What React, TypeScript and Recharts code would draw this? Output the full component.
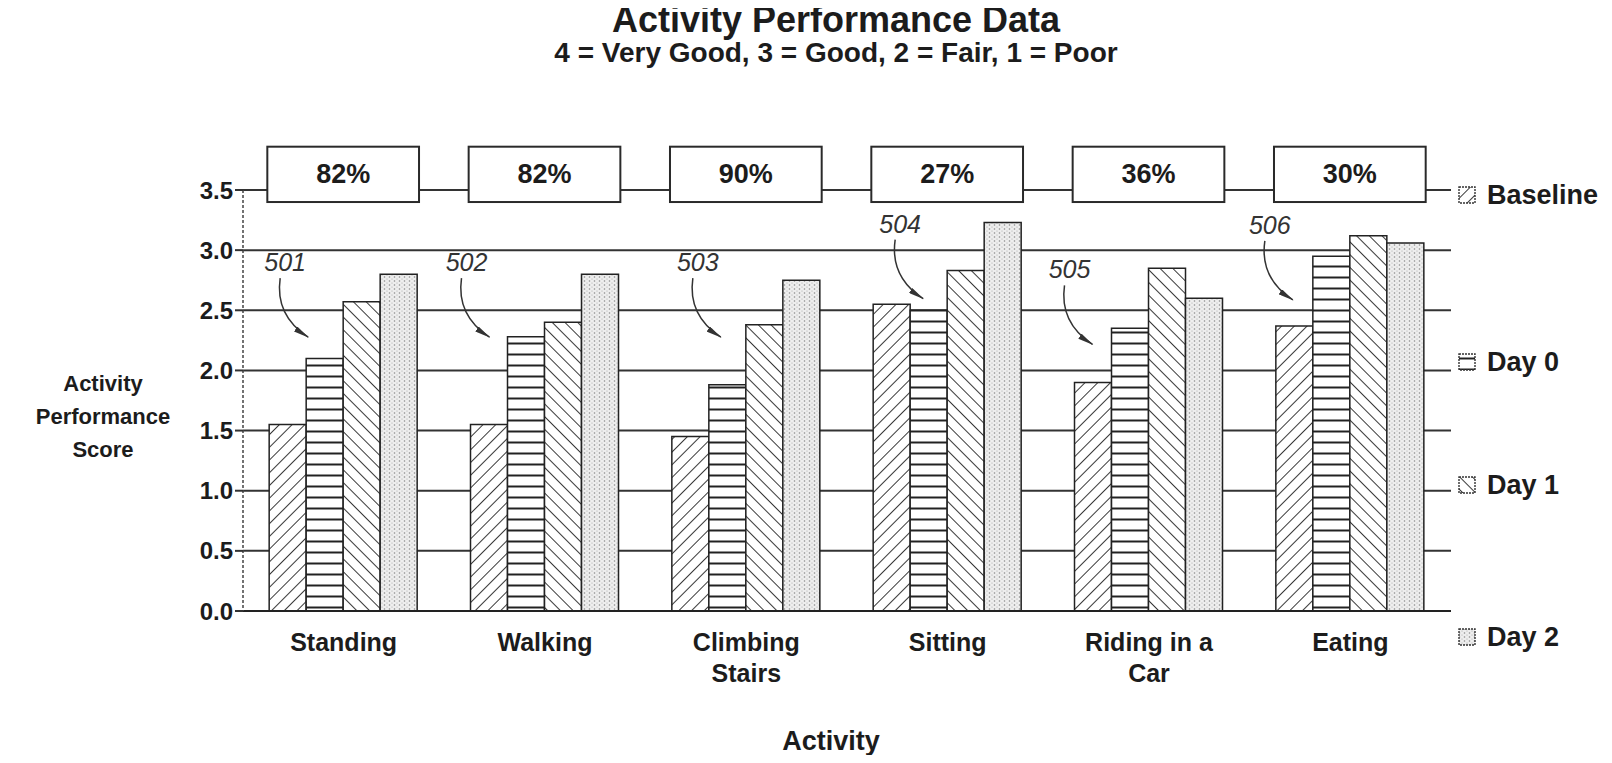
import React from "react";
import {
  BarChart,
  Bar,
  XAxis,
  YAxis,
  CartesianGrid,
  Legend,
  LabelList,
  Label,
} from "recharts";

// Activity scores per visit (4 = Very Good ... 1 = Poor)
const activities = ["Standing", "Walking", "Climbing Stairs", "Sitting", "Riding in a Car", "Eating"];
const baseline = [1.55, 1.55, 1.45, 2.55, 1.9, 2.37];
const day0 = [2.1, 2.28, 1.88, 2.5, 2.35, 2.95];
const day1 = [2.57, 2.4, 2.38, 2.83, 2.85, 3.12];
const day2 = [2.8, 2.8, 2.75, 3.23, 2.6, 3.06];
const improvement = ["82%", "82%", "90%", "27%", "36%", "30%"];
const refNumerals = ["501", "502", "503", "504", "505", "506"];
const yTicks = [0, 0.5, 1, 1.5, 2, 2.5, 3, 3.5];

const rows = activities.map((name, i) => ({
  name,
  baseline: baseline[i],
  day0: day0[i],
  day1: day1[i],
  day2: day2[i],
  pct: improvement[i],
  refNo: refNumerals[i],
}));

const FONT = '"Liberation Sans", Arial, Helvetica, sans-serif';
const INK = "#1c1c1c";

const series = [
  { key: "baseline", name: "Baseline", fill: "url(#hatch-up)" },
  { key: "day0", name: "Day 0", fill: "url(#hlines)" },
  { key: "day1", name: "Day 1", fill: "url(#hatch-down)" },
  { key: "day2", name: "Day 2", fill: "url(#stipple)" },
];

// where each reference numeral sits: px from group start, height in score units
const annotationLayout = [
  { dx: 16, level: 2.9 },
  { dx: -4, level: 2.9 },
  { dx: 26, level: 2.9 },
  { dx: 27, level: 3.22 },
  { dx: -5, level: 2.84 },
  { dx: -6, level: 3.21 },
];

// vertical offsets of the legend entries
const legendOffsets = [0, 167, 290, 442];

function wrapLabel(text: string, max = 11) {
  const lines: string[] = [];
  let cur = "";
  for (const w of text.split(" ")) {
    const next = cur ? cur + " " + w : w;
    if (next.length > max && cur) {
      lines.push(cur);
      cur = w;
    } else cur = next;
  }
  if (cur) lines.push(cur);
  return lines;
}

function ActivityTick(props: any) {
  const { x, y, payload } = props;
  const lines = wrapLabel(String(payload.value));
  return (
    <text x={x} y={y + 40} textAnchor="middle" fontSize={25} fontWeight={700} fill={INK}>
      {lines.map((l, i) => (
        <tspan key={i} x={x} dy={i === 0 ? 0 : 31}>
          {l}
        </tspan>
      ))}
    </text>
  );
}

function barGeom(props: any) {
  const vb = props.viewBox && typeof props.viewBox.width === "number" ? props.viewBox : props;
  return { x: Number(vb.x), y: Number(vb.y), width: Number(vb.width), height: Number(vb.height) };
}

// Percentage box above each activity group (drawn from the Day 2 bar)
function renderScoreBox(props: any) {
  const { x, y, width, height } = barGeom(props);
  const i = typeof props.index === "number" ? props.index : improvement.indexOf(String(props.value));
  if (i < 0 || !height) return null;
  const ppu = height / day2[i];
  const base = y + height;
  const cx = x - width; // centre of the four bars
  const top = base - 3.86 * ppu;
  const bottom = base - 3.4 * ppu;
  const w = width * 4.1;
  return (
    <g key={`box-${i}`}>
      <rect x={cx - w / 2} y={top} width={w} height={bottom - top} fill="#fff" stroke="#2a2a2a" strokeWidth={2} />
      <text
        x={cx}
        y={(top + bottom) / 2}
        textAnchor="middle"
        dominantBaseline="central"
        fontSize={27}
        fontWeight={700}
        fill={INK}
      >
        {improvement[i]}
      </text>
    </g>
  );
}

// Italic reference numeral with a curved leader arrow
function renderRefArrow(props: any) {
  const { x, y, width, height } = barGeom(props);
  const i = typeof props.index === "number" ? props.index : refNumerals.indexOf(String(props.value));
  if (i < 0 || !height) return null;
  const ppu = height / day2[i];
  const base = y + height;
  const start = x - 3 * width;
  const lx = start + annotationLayout[i].dx;
  const ly = base - annotationLayout[i].level * ppu;
  return (
    <g key={`note-${i}`}>
      <text
        x={lx}
        y={ly}
        textAnchor="middle"
        dominantBaseline="central"
        fontSize={25}
        fontStyle="italic"
        fill="#333"
      >
        {refNumerals[i]}
      </text>
      <path
        d={`M${lx - 5},${ly + 16} C${lx - 9},${ly + 44} ${lx + 3},${ly + 62} ${lx + 23},${ly + 75}`}
        fill="none"
        stroke="#333"
        strokeWidth={1.5}
        markerEnd="url(#arrowhead)"
      />
    </g>
  );
}

function LegendBox() {
  return (
    <div style={{ position: "relative", width: 146, height: 480, fontFamily: FONT }}>
      {series.map((s, i) => (
        <div
          key={s.key}
          style={{
            position: "absolute",
            left: 0,
            top: legendOffsets[i],
            height: 30,
            lineHeight: "30px",
            display: "flex",
            alignItems: "center",
            fontSize: 27,
            fontWeight: 700,
            color: INK,
            whiteSpace: "nowrap",
          }}
        >
          <svg width={18} height={18} style={{ marginRight: 11 }}>
            <rect x={1} y={1} width={16} height={16} fill={s.fill} stroke="#333" strokeWidth={1.4} strokeDasharray="2 1" />
          </svg>
          {s.name}
        </div>
      ))}
    </div>
  );
}

export default function App() {
  return (
    <div style={{ position: "relative", width: 1596, height: 747, fontFamily: FONT, color: INK }}>
      <div
        style={{
          position: "absolute",
          left: 428,
          top: -6,
          width: 800,
          textAlign: "center",
          fontSize: 36,
          lineHeight: "36px",
          fontWeight: 700,
        }}
      >
        Activity Performance Data
      </div>
      <div
        style={{
          position: "absolute",
          left: 328,
          top: 31,
          width: 1000,
          textAlign: "center",
          fontSize: 28,
          lineHeight: "28px",
          fontWeight: 700,
        }}
      >
        4 = Very Good, 3 = Good, 2 = Fair, 1 = Poor
      </div>
      <div
        style={{
          position: "absolute",
          left: 15,
          top: 359,
          width: 160,
          textAlign: "center",
          fontSize: 22,
          lineHeight: "33px",
          fontWeight: 700,
        }}
      >
        Activity
        <br />
        Performance
        <br />
        Score
      </div>
      <BarChart
        width={1596}
        height={747}
        data={rows}
        margin={{ top: 182, right: 123, bottom: 4, left: 175 }}
        barCategoryGap="13%"
        barGap={0}
      >
        <defs>
          <pattern id="hatch-up" patternUnits="userSpaceOnUse" width={9} height={9} patternTransform="rotate(45)">
            <rect width={9} height={9} fill="#fff" />
            <line x1={0} y1={0} x2={0} y2={9} stroke="#222" strokeWidth={1.8} />
          </pattern>
          <pattern id="hatch-down" patternUnits="userSpaceOnUse" width={9} height={9} patternTransform="rotate(-45)">
            <rect width={9} height={9} fill="#fff" />
            <line x1={0} y1={0} x2={0} y2={9} stroke="#222" strokeWidth={1.8} />
          </pattern>
          <pattern id="hlines" patternUnits="userSpaceOnUse" width={11} height={11}>
            <rect width={11} height={11} fill="#fff" />
            <line x1={0} y1={5.5} x2={11} y2={5.5} stroke="#222" strokeWidth={2} />
          </pattern>
          <pattern id="stipple" patternUnits="userSpaceOnUse" width={5} height={4}>
            <rect width={5} height={4} fill="#eeeeee" />
            <circle cx={1.5} cy={1} r={0.8} fill="#8a8a8a" />
            <circle cx={4} cy={3} r={0.6} fill="#a8a8a8" />
          </pattern>
          <marker
            id="arrowhead"
            viewBox="0 0 16 6"
            refX={15}
            refY={3}
            markerWidth={16}
            markerHeight={6}
            markerUnits="userSpaceOnUse"
            orient="auto"
          >
            <path d="M0,0 L16,3 L0,6 Z" fill="#333" />
          </marker>
        </defs>
        <CartesianGrid vertical={false} stroke="#333" strokeWidth={2} />
        <XAxis
          dataKey="name"
          height={140}
          interval={0}
          tick={(p: any) => <ActivityTick {...p} />}
          tickLine={false}
          tickSize={0}
          tickMargin={0}
          axisLine={{ stroke: "#222", strokeWidth: 2 }}
        >
          <Label
            value="Activity"
            position="insideBottom"
            offset={1}
            dx={-16}
            style={{ fontSize: 27, fontWeight: 700, fill: INK }}
          />
        </XAxis>
        <YAxis
          domain={[0, 3.5]}
          ticks={yTicks}
          interval={0}
          tickFormatter={(v: number) => v.toFixed(1)}
          width={60}
          tickSize={8}
          tick={{ fontSize: 24, fontWeight: 700, fill: INK }}
          tickLine={{ stroke: "#333", strokeWidth: 2 }}
          axisLine={{ stroke: "#444", strokeWidth: 1.5, strokeDasharray: "3 2" }}
        />
        <YAxis
          yAxisId="right"
          orientation="right"
          domain={[0, 3.5]}
          ticks={yTicks}
          interval={0}
          tickFormatter={() => ""}
          width={30}
          tickSize={22}
          axisLine={false}
          tickLine={{ stroke: "#333", strokeWidth: 2 }}
        />
        <Legend
          layout="vertical"
          align="center"
          verticalAlign="middle"
          content={() => <LegendBox />}
          wrapperStyle={{ position: "absolute", left: 1450, top: 172, width: 146, height: 480 }}
        />
        {series.map((s) => (
          <Bar
            key={s.key}
            dataKey={s.key}
            name={s.name}
            fill={s.fill}
            stroke="#222"
            strokeWidth={1.5}
            isAnimationActive={false}
          >
            {s.key === "day2" && <LabelList dataKey="pct" content={renderScoreBox} />}
            {s.key === "day2" && <LabelList dataKey="refNo" content={renderRefArrow} />}
          </Bar>
        ))}
      </BarChart>
    </div>
  );
}
